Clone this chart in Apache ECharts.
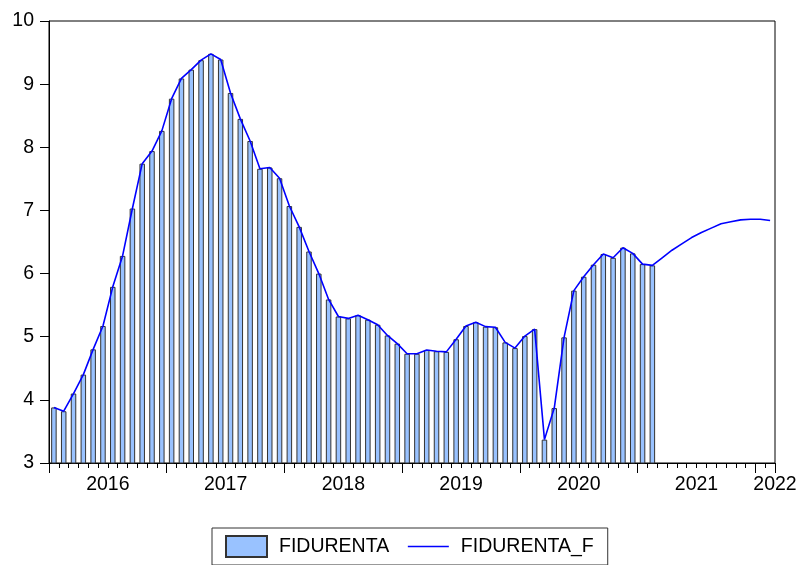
<!DOCTYPE html>
<html>
<head>
<meta charset="utf-8">
<title>FIDURENTA</title>
<script src="https://cdn.jsdelivr.net/npm/echarts@6/dist/echarts.min.js"></script>
<style>
    html, body { margin: 0; padding: 0; background: #fff; }
    #chart { width: 800px; height: 565px; }
</style>
</head>
<body>
<div id="chart"></div>
<script>
// monthly observations, 2016M01 .. 2022M02
const years = [2016, 2017, 2018, 2019, 2020, 2021, 2022];
const yearLabels = ['2016', '2017', '2018', '2019', '2020', '2021', '2022'];

// FIDURENTA (actual), 2016M01 .. 2021M02
const actual = [
    3.88, 3.82, 4.10, 4.40, 4.80, 5.17, 5.79, 6.28, 7.03, 7.74, 7.94, 8.26,
    8.77, 9.09, 9.23, 9.38, 9.48, 9.39, 8.86, 8.45, 8.10, 7.66, 7.68, 7.51,
    7.07, 6.74, 6.35, 6.00, 5.59, 5.32, 5.29, 5.34, 5.27, 5.19, 5.02, 4.89,
    4.73, 4.73, 4.79, 4.77, 4.76, 4.96, 5.17, 5.23, 5.16, 5.15, 4.91, 4.82,
    5.01, 5.12, 3.37, 3.87, 4.99, 5.73, 5.95, 6.14, 6.31, 6.25, 6.41, 6.32,
    6.15, 6.13
];

// FIDURENTA_F forecast part, 2021M03 .. 2022M02
const forecast = [6.25, 6.37, 6.47, 6.57, 6.65, 6.72, 6.79, 6.82, 6.85, 6.86, 6.86, 6.84];

const yTicks = [3, 4, 5, 6, 7, 8, 9, 10];

// build month categories
const months = [];
years.forEach(function (y) {
    for (let m = 1; m <= 12; m++) {
        if (y === 2022 && m > 2) break;
        months.push(y + '-' + (m < 10 ? '0' + m : m));
    }
});

const barData = months.map(function (d, i) {
    return i < actual.length ? actual[i] : '-';
});
const lineData = actual.concat(forecast);

const font = '"Liberation Sans", Arial, sans-serif';
const fontSize = 19.5;

var myChart = echarts.init(document.getElementById('chart'));
var option = {
    animation: false,
    backgroundColor: '#fff',
    grid: {
        left: 49,
        top: 21,
        width: 726,
        height: 442,
        show: true,
        borderColor: '#000',
        borderWidth: 1,
        backgroundColor: 'transparent',
    },
    legend: {
        left: 212,
        top: 528,
        orient: 'horizontal',
        padding: [7, 14, 7, 13],
        itemGap: 18,
        itemWidth: 41,
        itemHeight: 21,
        borderColor: '#333',
        borderWidth: 1,
        textStyle: {
            fontFamily: font,
            fontSize: fontSize,
            color: '#000',
            padding: [0, 0, 0, 7],
        },
        data: [
            { name: 'FIDURENTA', icon: 'rect' },
            {
                name: 'FIDURENTA_F',
                // line only, no marker in the key
                itemStyle: { color: 'rgba(0,0,0,0)', borderColor: 'rgba(0,0,0,0)', borderWidth: 0, opacity: 0 },
                lineStyle: { color: '#0000ff', width: 1.4 },
            },
        ],
    },
    xAxis: [
        {
            // bars / line, minor (monthly) ticks
            type: 'category',
            position: 'bottom',
            data: months,
            boundaryGap: true,
            axisLine: { show: true, onZero: false, lineStyle: { color: '#000', width: 1 } },
            axisTick: { show: true, interval: 0, length: 5, lineStyle: { color: '#000' } },
            axisLabel: { show: false },
            splitLine: { show: false },
        },
        {
            // major (yearly) ticks
            type: 'category',
            position: 'bottom',
            data: months,
            boundaryGap: true,
            axisLine: { show: false, onZero: false },
            axisTick: {
                show: true,
                length: 10,
                interval: function (index) {
                    return index % 12 === 0;
                },
                lineStyle: { color: '#000' },
            },
            axisLabel: { show: false },
            splitLine: { show: false },
        },
        {
            // year labels centred on each year span
            type: 'value',
            position: 'bottom',
            min: 0,
            max: months.length,
            interval: 6,
            axisLine: { show: false, onZero: false },
            axisTick: { show: false },
            splitLine: { show: false },
            axisLabel: {
                show: true,
                margin: 12,
                color: '#000',
                fontFamily: font,
                fontSize: fontSize,
                showMinLabel: true,
                showMaxLabel: true,
                formatter: function (v) {
                    if (v === months.length) return yearLabels[yearLabels.length - 1];
                    if (v % 12 === 6) return yearLabels[(v - 6) / 12];
                    return '';
                },
            },
        },
    ],
    yAxis: {
        type: 'value',
        min: yTicks[0],
        max: yTicks[yTicks.length - 1],
        interval: 1,
        axisLine: { show: true, lineStyle: { color: '#000', width: 1 } },
        axisTick: { show: true, length: 9, lineStyle: { color: '#000' } },
        splitLine: { show: false },
        axisLabel: {
            margin: 15,
            color: '#000',
            fontFamily: font,
            fontSize: fontSize,
        },
    },
    series: [
        {
            name: 'FIDURENTA',
            type: 'bar',
            xAxisIndex: 0,
            barWidth: 5.5,
            itemStyle: {
                color: '#99c2ff',
                borderColor: '#333',
                borderWidth: 1,
            },
            data: barData,
        },
        {
            name: 'FIDURENTA_F',
            type: 'line',
            xAxisIndex: 0,
            symbol: 'none',
            showSymbol: false,
            lineStyle: { color: '#0000ff', width: 1.6 },
            itemStyle: { color: '#0000ff' },
            data: lineData,
        },
    ],
};
option && myChart.setOption(option);
</script>
</body>
</html>
